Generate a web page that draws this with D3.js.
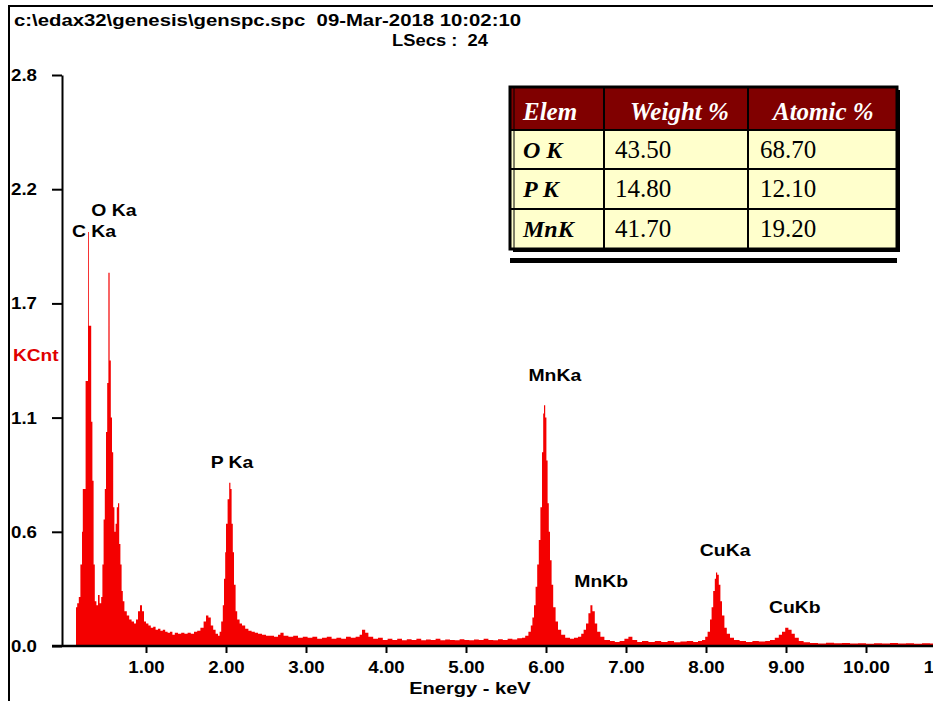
<!DOCTYPE html>
<html>
<head>
<meta charset="utf-8">
<script src="https://cdn.jsdelivr.net/npm/d3@7"></script>
<style>
  body { margin: 0; background: #fff; }
</style>
</head>
<body>
<div id="app"></div>
<script>
// spectrum channels (keV, KCnt)
const energy = [
  0.125, 0.14, 0.16, 0.18, 0.20, 0.21, 0.23, 0.245, 0.26, 0.275, 0.285, 0.30, 0.315, 0.33, 0.345, 0.36,
  0.38, 0.40, 0.42, 0.44, 0.455, 0.47, 0.485, 0.50, 0.515, 0.53, 0.545, 0.56, 0.575, 0.59, 0.605, 0.62,
  0.635, 0.65, 0.665, 0.68, 0.695, 0.71, 0.73, 0.76, 0.79, 0.82, 0.85, 0.875, 0.90, 0.925, 0.95, 0.975,
  1.00, 1.03, 1.06, 1.09, 1.12, 1.15, 1.18, 1.21, 1.24, 1.27, 1.30, 1.33, 1.36, 1.40, 1.44, 1.48,
  1.52, 1.56, 1.60, 1.64, 1.68, 1.72, 1.75, 1.78, 1.81, 1.84, 1.87, 1.90, 1.92, 1.94, 1.96, 1.975,
  1.99, 2.00, 2.02, 2.04, 2.055, 2.07, 2.085, 2.10, 2.12, 2.14, 2.17, 2.20, 2.24, 2.28, 2.32, 2.36,
  2.40, 2.45, 2.50, 2.55, 2.60, 2.65, 2.68, 2.72, 2.78, 2.84, 2.90, 2.96, 3.02, 3.08, 3.14, 3.20,
  3.26, 3.32, 3.38, 3.44, 3.50, 3.56, 3.62, 3.67, 3.70, 3.74, 3.78, 3.84, 3.90, 3.96, 4.02, 4.08,
  4.14, 4.20, 4.26, 4.32, 4.38, 4.44, 4.50, 4.56, 4.62, 4.68, 4.74, 4.80, 4.86, 4.92, 4.98, 5.04,
  5.10, 5.16, 5.22, 5.28, 5.34, 5.40, 5.46, 5.52, 5.58, 5.64, 5.70, 5.74, 5.78, 5.81, 5.83, 5.85,
  5.87, 5.89, 5.91, 5.93, 5.95, 5.965, 5.975, 5.99, 6.005, 6.02, 6.035, 6.05, 6.07, 6.09, 6.12, 6.15,
  6.19, 6.24, 6.30, 6.35, 6.40, 6.44, 6.47, 6.50, 6.53, 6.555, 6.58, 6.61, 6.64, 6.68, 6.73, 6.80,
  6.86, 6.92, 6.98, 7.03, 7.08, 7.14, 7.20, 7.28, 7.36, 7.44, 7.52, 7.60, 7.68, 7.76, 7.84, 7.90,
  7.95, 7.99, 8.02, 8.05, 8.07, 8.09, 8.11, 8.125, 8.14, 8.16, 8.18, 8.20, 8.23, 8.26, 8.30, 8.35,
  8.42, 8.50, 8.58, 8.66, 8.74, 8.80, 8.86, 8.91, 8.95, 8.99, 9.03, 9.07, 9.11, 9.16, 9.22, 9.30,
  9.40, 9.50, 9.60, 9.70, 9.80, 9.90, 10.00, 10.10, 10.20, 10.30, 10.40, 10.50, 10.60, 10.70, 10.80, 10.90
]
const kcnt = [
  0.19, 0.21, 0.24, 0.40, 0.56, 0.77, 0.77, 1.30, 1.30, 2.03, 1.57, 1.57, 1.10, 0.81, 0.40, 0.22,
  0.20, 0.25, 0.21, 0.24, 0.40, 0.62, 0.77, 1.05, 1.29, 1.83, 1.40, 1.12, 0.95, 0.68, 0.56, 0.60,
  0.68, 0.70, 0.50, 0.40, 0.27, 0.22, 0.17, 0.15, 0.13, 0.12, 0.11, 0.13, 0.17, 0.20, 0.17, 0.12,
  0.11, 0.10, 0.09, 0.095, 0.08, 0.085, 0.075, 0.08, 0.07, 0.065, 0.07, 0.055, 0.065, 0.06, 0.065, 0.06,
  0.065, 0.06, 0.07, 0.075, 0.09, 0.12, 0.15, 0.14, 0.10, 0.08, 0.06, 0.05, 0.07, 0.12, 0.20, 0.33,
  0.46, 0.60, 0.72, 0.80, 0.77, 0.60, 0.46, 0.30, 0.17, 0.13, 0.11, 0.10, 0.085, 0.075, 0.07, 0.065,
  0.06, 0.055, 0.05, 0.05, 0.045, 0.055, 0.065, 0.05, 0.045, 0.05, 0.04, 0.045, 0.04, 0.045, 0.035, 0.04,
  0.045, 0.035, 0.04, 0.035, 0.045, 0.04, 0.045, 0.055, 0.08, 0.065, 0.045, 0.035, 0.04, 0.03, 0.035, 0.03,
  0.035, 0.028, 0.033, 0.03, 0.035, 0.028, 0.032, 0.03, 0.035, 0.028, 0.032, 0.03, 0.028, 0.033, 0.03, 0.028,
  0.032, 0.03, 0.035, 0.03, 0.028, 0.033, 0.03, 0.035, 0.032, 0.038, 0.04, 0.05, 0.07, 0.10, 0.14, 0.20,
  0.29, 0.40, 0.52, 0.68, 0.95, 1.14, 1.18, 1.12, 0.91, 0.70, 0.56, 0.42, 0.30, 0.19, 0.12, 0.08,
  0.055, 0.04, 0.035, 0.04, 0.045, 0.06, 0.08, 0.11, 0.16, 0.20, 0.17, 0.11, 0.07, 0.045, 0.03, 0.025,
  0.02, 0.025, 0.035, 0.045, 0.03, 0.02, 0.025, 0.02, 0.025, 0.02, 0.025, 0.018, 0.022, 0.025, 0.02, 0.025,
  0.03, 0.045, 0.07, 0.13, 0.19, 0.27, 0.33, 0.36, 0.35, 0.30, 0.22, 0.15, 0.09, 0.06, 0.04, 0.03,
  0.025, 0.02, 0.025, 0.022, 0.025, 0.03, 0.04, 0.055, 0.07, 0.09, 0.08, 0.06, 0.04, 0.025, 0.018, 0.015,
  0.012, 0.016, 0.013, 0.015, 0.012, 0.014, 0.011, 0.014, 0.012, 0.015, 0.012, 0.013, 0.011, 0.014, 0.012, 0
]

const yTicks = [0, 0.56, 1.12, 1.68, 2.24, 2.8]
const yTickLabels = ["0.0", "0.6", "1.1", "1.7", "2.2", "2.8"]
const xTicks = [1, 2, 3, 4, 5, 6, 7, 8, 9, 10, 11]

// peak annotations, anchored in data units (keV, KCnt)
const peakNames = ["C Ka", "O Ka", "P Ka", "MnKa", "MnKb", "CuKa", "CuKb"]
const peakLabelE = [0.35, 0.60, 2.075, 6.11, 6.69, 8.24, 9.11]
const peakLabelK = [2.035, 2.14, 0.90, 1.33, 0.32, 0.47, 0.19]

// quantification table
const tableHead = ["Elem", "Weight %", "Atomic %"]
const elems = ["O K", "P K", "MnK"]
const weightPct = ["43.50", "14.80", "41.70"]
const atomicPct = ["68.70", "12.10", "19.20"]

const W = 933, H = 701
const spec_color = "#f40000"
const sans = "Liberation Sans, Arial, sans-serif"
const serif = "Liberation Serif, Times New Roman, serif"

// the old EDAX font is wider than Arial: stretch glyphs a bit
const widen = (sel, k) => sel.each(function () {
   const len = this.getComputedTextLength()
   d3.select(this).attr("textLength", len * k).attr("lengthAdjust", "spacingAndGlyphs")
})

const svg = d3.select("#app").append("svg")
   .attr("width", W)
   .attr("height", H)
   .attr("font-family", sans)

// outer frame
svg.append("path")
   .attr("d", d3.line()([[9, H], [9, 6], [W, 6]]))
   .attr("fill", "none")
   .attr("stroke", "#000")
   .attr("stroke-width", 2)

svg.append("text")
   .attr("x", 14).attr("y", 26)
   .attr("font-size", "17px").attr("font-weight", "bold")
   .attr("textLength", 507).attr("lengthAdjust", "spacingAndGlyphs")
   .attr("xml:space", "preserve")
   .text("c:\\edax32\\genesis\\genspc.spc  09-Mar-2018 10:02:10")

svg.append("text")
   .attr("x", 488).attr("y", 46)
   .attr("text-anchor", "end")
   .attr("font-size", "17px").attr("font-weight", "bold")
   .attr("xml:space", "preserve")
   .text("LSecs :  24")
   .call(widen, 1.08)

const x = d3.scaleLinear().domain([0, 11]).range([66, 946])
const y = d3.scaleLinear().domain([0, 2.8]).range([646, 75])

const pts = energy.map((e, i) => [e, kcnt[i]])

svg.append("path")
   .datum(pts)
   .attr("fill", spec_color)
   .attr("d", d3.area()
      .x(d => x(d[0]))
      .y0(y(0))
      .y1(d => y(d[1]))
      .curve(d3.curveStepAfter))

// y axis
const yAxis = svg.append("g")
   .attr("transform", "translate(62,0)")
   .call(d3.axisLeft(y).tickValues(yTicks).tickSize(10).tickSizeOuter(0)
      .tickFormat((d, i) => yTickLabels[i]))
yAxis.select(".domain").attr("stroke-width", 2)
yAxis.selectAll(".tick line").attr("stroke-width", 2)
yAxis.selectAll(".tick text")
   .attr("x", -51)
   .attr("text-anchor", "start")
   .attr("font-size", "17px")
   .attr("font-weight", "bold")
   .attr("fill", "#000")
   .attr("font-family", sans)
   .call(widen, 1.1)

// x axis
const xAxis = svg.append("g")
   .attr("transform", `translate(0,${y(0)})`)
   .call(d3.axisBottom(x).tickValues(xTicks).tickSize(7).tickSizeOuter(0)
      .tickFormat(d3.format(".2f")))
xAxis.select(".domain")
   .attr("d", `M52,0H${W}`)
   .attr("stroke-width", 2.5)
xAxis.selectAll(".tick line").attr("stroke-width", 2)
xAxis.selectAll(".tick text")
   .attr("y", 15)
   .attr("font-size", "17px")
   .attr("font-weight", "bold")
   .attr("fill", "#000")
   .attr("font-family", sans)
   .call(widen, 1.1)

svg.append("text")
   .attr("x", 470).attr("y", 694)
   .attr("text-anchor", "middle")
   .attr("font-size", "17px").attr("font-weight", "bold")
   .text("Energy - keV")
   .call(widen, 1.18)

svg.append("text")
   .attr("x", 13).attr("y", 361)
   .attr("font-size", "17px").attr("font-weight", "bold")
   .attr("fill", "#e00000")
   .text("KCnt")
   .call(widen, 1.12)

svg.append("g")
   .selectAll("text")
   .data(peakNames)
   .join("text")
   .attr("x", (d, i) => x(peakLabelE[i]))
   .attr("y", (d, i) => y(peakLabelK[i]) + 6)
   .attr("text-anchor", "middle")
   .attr("font-size", "17px")
   .attr("font-weight", "bold")
   .text(d => d)
   .call(widen, 1.14)

// table
const colX = [510, 604, 748, 897]
const rowY = [87, 130, 169, 209, 249]
const tbl = svg.append("g").attr("font-family", serif)

tbl.append("rect")
   .attr("x", colX[0] + 3).attr("y", rowY[0] + 3)
   .attr("width", colX[3] - colX[0]).attr("height", rowY[4] - rowY[0])
   .attr("fill", "#000")

tbl.append("rect")
   .attr("x", colX[0]).attr("y", rowY[0])
   .attr("width", colX[3] - colX[0]).attr("height", rowY[1] - rowY[0])
   .attr("fill", "#800000")
tbl.append("rect")
   .attr("x", colX[0]).attr("y", rowY[1])
   .attr("width", colX[3] - colX[0]).attr("height", rowY[4] - rowY[1])
   .attr("fill", "#ffffcc")

tbl.selectAll("line.h")
   .data(rowY.slice(1, 4))
   .join("line")
   .attr("x1", colX[0]).attr("x2", colX[3])
   .attr("y1", d => d).attr("y2", d => d)
   .attr("stroke", "#000").attr("stroke-width", 2)
tbl.selectAll("line.v")
   .data(colX.slice(1, 3))
   .join("line")
   .attr("x1", d => d).attr("x2", d => d)
   .attr("y1", rowY[0]).attr("y2", rowY[4])
   .attr("stroke", "#000").attr("stroke-width", 2)

tbl.append("rect")
   .attr("x", colX[0]).attr("y", rowY[0])
   .attr("width", colX[3] - colX[0]).attr("height", rowY[4] - rowY[0])
   .attr("fill", "none")
   .attr("stroke", "#000").attr("stroke-width", 3)
tbl.append("line")
   .attr("x1", colX[0] + 4).attr("x2", colX[0] + 4)
   .attr("y1", rowY[0]).attr("y2", rowY[4])
   .attr("stroke", "#000").attr("stroke-width", 1)

tbl.append("rect")
   .attr("x", colX[0]).attr("y", 258)
   .attr("width", colX[3] - colX[0]).attr("height", 5)
   .attr("fill", "#000")

const headX = [523, 630, 773]
tbl.selectAll("text.head")
   .data(tableHead)
   .join("text")
   .attr("x", (d, i) => headX[i])
   .attr("y", 120)
   .attr("fill", "#fff")
   .attr("font-size", "25px")
   .attr("font-weight", "bold")
   .attr("font-style", "italic")
   .text(d => d)

const cellX = [523, 615, 760]
elems.forEach((el, r) => {
   const base = (rowY[r + 1] + rowY[r + 2]) / 2 + 8
   tbl.append("text")
      .attr("x", cellX[0]).attr("y", base)
      .attr("font-size", "24px").attr("font-weight", "bold").attr("font-style", "italic")
      .text(el)
   tbl.append("text")
      .attr("x", cellX[1]).attr("y", base)
      .attr("font-size", "25px")
      .text(weightPct[r])
   tbl.append("text")
      .attr("x", cellX[2]).attr("y", base)
      .attr("font-size", "25px")
      .text(atomicPct[r])
})
</script>
</body>
</html>
